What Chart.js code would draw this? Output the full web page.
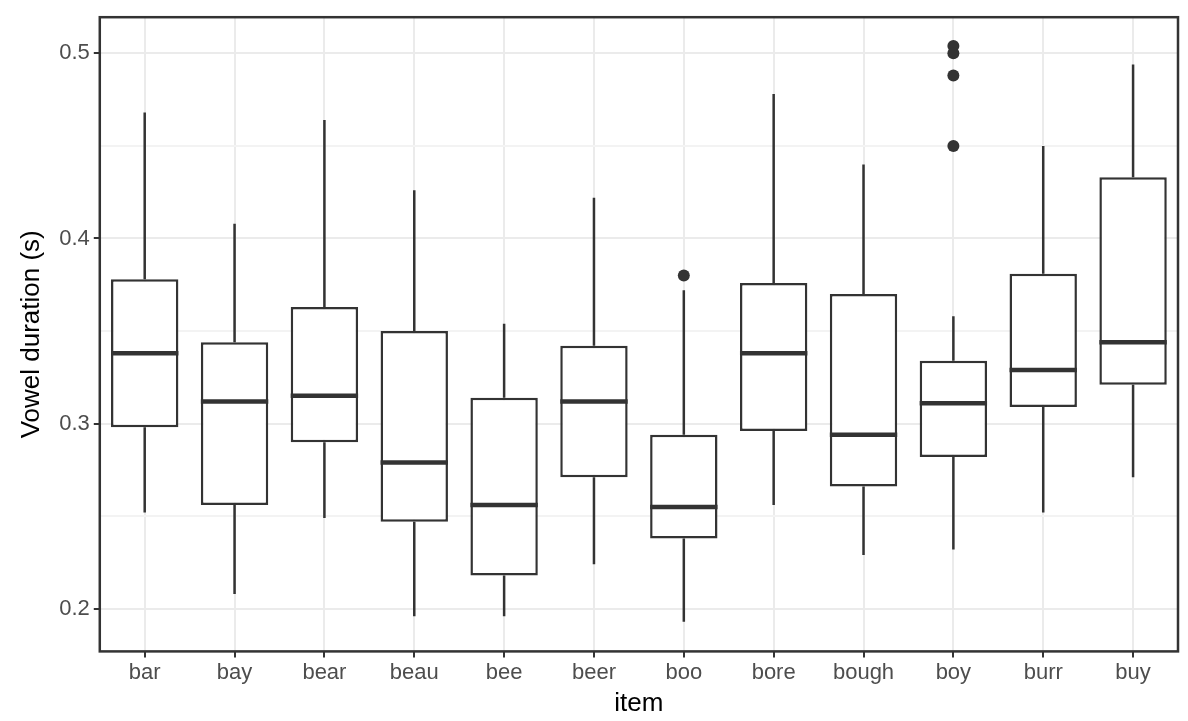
<!DOCTYPE html>
<html>
<head>
<meta charset="utf-8">
<script src="https://cdn.jsdelivr.net/npm/chart.js@4"></script>
<style>
  body { margin: 0; background: #fff; }
  #wrap { width: 1188px; height: 721px; }
</style>
</head>
<body>
<div id="wrap"><canvas id="myChart"></canvas></div>
<script>
const items = ['bar', 'bay', 'bear', 'beau', 'bee', 'beer', 'boo', 'bore', 'bough', 'boy', 'burr', 'buy'];
const whiskerLow = [0.252, 0.208, 0.249, 0.196, 0.196, 0.224, 0.193, 0.256, 0.229, 0.232, 0.252, 0.271];
const q1 = [0.298, 0.256, 0.290, 0.247, 0.218, 0.271, 0.238, 0.296, 0.266, 0.282, 0.309, 0.321];
const median = [0.338, 0.312, 0.315, 0.279, 0.256, 0.312, 0.255, 0.338, 0.294, 0.311, 0.329, 0.344];
const q3 = [0.378, 0.344, 0.363, 0.350, 0.314, 0.342, 0.294, 0.376, 0.370, 0.334, 0.381, 0.433];
const whiskerHigh = [0.468, 0.408, 0.464, 0.426, 0.354, 0.422, 0.372, 0.478, 0.440, 0.358, 0.450, 0.494];
const outlierItems = ['boo', 'boy', 'boy', 'boy', 'boy'];
const outlierValues = [0.380, 0.504, 0.500, 0.488, 0.450];

const ink = '#333333';

// whiskers, medians and the panel border, drawn through the chart's scales
const boxParts = {
  id: 'boxParts',
  beforeDatasetsDraw(chart) {
    const ctx = chart.ctx, y = chart.scales.y;
    const meta = chart.getDatasetMeta(0);
    ctx.save();
    ctx.strokeStyle = ink;
    ctx.lineWidth = 2.5;
    meta.data.forEach((bar, i) => {
      ctx.beginPath();
      ctx.moveTo(bar.x, y.getPixelForValue(whiskerHigh[i]));
      ctx.lineTo(bar.x, y.getPixelForValue(q3[i]));
      ctx.moveTo(bar.x, y.getPixelForValue(q1[i]));
      ctx.lineTo(bar.x, y.getPixelForValue(whiskerLow[i]));
      ctx.stroke();
    });
    ctx.restore();
  },
  afterDatasetsDraw(chart) {
    const ctx = chart.ctx, y = chart.scales.y, a = chart.chartArea;
    const meta = chart.getDatasetMeta(0);
    ctx.save();
    ctx.strokeStyle = ink;
    ctx.lineWidth = 4.5;
    meta.data.forEach((bar, i) => {
      const py = y.getPixelForValue(median[i]);
      ctx.beginPath();
      ctx.moveTo(bar.x - bar.width / 2, py);
      ctx.lineTo(bar.x + bar.width / 2, py);
      ctx.stroke();
    });
    ctx.lineWidth = 2.5;
    ctx.strokeRect(a.left, a.top, a.right - a.left, a.bottom - a.top);
    ctx.restore();
  }
};

const ctx = document.getElementById('myChart').getContext('2d');
new Chart(ctx, {
  data: {
    labels: items,
    datasets: [
      {
        type: 'bar',
        data: items.map((_, i) => [q1[i], q3[i]]),
        backgroundColor: '#ffffff',
        borderColor: ink,
        borderWidth: 2.5,
        borderSkipped: false,
        barPercentage: 0.75,
        categoryPercentage: 1
      },
      {
        type: 'line',
        data: outlierItems.map((it, i) => ({ x: it, y: outlierValues[i] })),
        showLine: false,
        pointRadius: 6,
        pointBackgroundColor: ink,
        pointBorderWidth: 0
      }
    ]
  },
  options: {
    responsive: true,
    maintainAspectRatio: false,
    animation: false,
    layout: { padding: { top: 0, right: 10, left: 12, bottom: 2 } },
    plugins: { legend: { display: false }, tooltip: { enabled: false } },
    scales: {
      x: {
        offset: true,
        grid: { offset: false, color: '#ebebeb', lineWidth: 2, tickLength: 6, tickColor: ink },
        border: { display: false },
        ticks: { color: '#4d4d4d', font: { family: 'Liberation Sans', size: 22 }, padding: 2 },
        title: { display: true, text: 'item', color: '#000', font: { family: 'Liberation Sans', size: 26 }, padding: { top: 0, bottom: 0 } }
      },
      y: {
        min: 0.177,
        max: 0.5195,
        afterBuildTicks(axis) {
          axis.ticks = [0.2, 0.25, 0.3, 0.35, 0.4, 0.45, 0.5].map(v => ({ value: v }));
        },
        grid: {
          color: c => (c.tick && Math.round(c.tick.value * 100) % 10 === 0) ? '#ebebeb' : '#f3f3f3',
          lineWidth: 2,
          tickLength: 6,
          tickColor: c => (c.tick && Math.round(c.tick.value * 100) % 10 === 0) ? ink : 'rgba(0,0,0,0)'
        },
        border: { display: false },
        ticks: {
          color: '#4d4d4d',
          font: { family: 'Liberation Sans', size: 22 },
          padding: 4,
          callback: v => (Math.round(v * 100) % 10 === 0) ? v.toFixed(1) : ''
        },
        title: { display: true, text: 'Vowel duration (s)', color: '#000', font: { family: 'Liberation Sans', size: 26 }, padding: { bottom: 8 } }
      }
    }
  },
  plugins: [boxParts]
});
</script>
</body>
</html>
